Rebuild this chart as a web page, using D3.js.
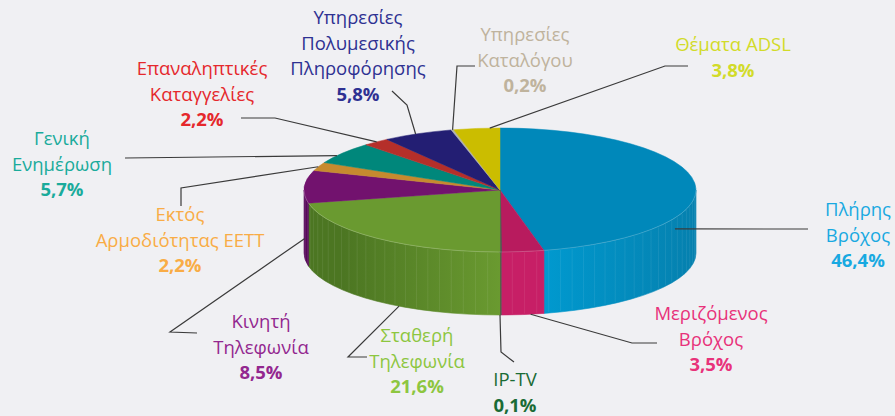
<!DOCTYPE html>
<html><head><meta charset="utf-8">
<script src="https://cdn.jsdelivr.net/npm/d3@7"></script>
<style>
html,body{margin:0;padding:0;background:#F0F0F3;}
svg{display:block;}
text{font-family:"Open Sans",Lato,sans-serif;}
</style></head>
<body>
<svg id="chart" width="895" height="416"></svg>
<script>
// ---- data ----
const categories = [
  ["Πλήρης","Βρόχος"],
  ["Μεριζόμενος","Βρόχος"],
  ["IP-TV"],
  ["Σταθερή","Τηλεφωνία"],
  ["Κινητή","Τηλεφωνία"],
  ["Εκτός","Αρμοδιότητας ΕΕΤΤ"],
  ["Γενική","Ενημέρωση"],
  ["Επαναληπτικές","Καταγγελίες"],
  ["Υπηρεσίες","Πολυμεσικής","Πληροφόρησης"],
  ["Υπηρεσίες","Καταλόγου"],
  ["Θέματα ADSL"]
];
const values = [46.4, 3.5, 0.1, 21.6, 8.5, 2.2, 5.7, 2.2, 5.8, 0.2, 3.8];
const valueLabels = ["46,4%","3,5%","0,1%","21,6%","8,5%","2,2%","5,7%","2,2%","5,8%","0,2%","3,8%"];

// ---- styles ----
const topColors   = ["#0088BA","#B81B5E","#4D4D4D","#6A9A30","#72126E","#C68A2F","#00877B","#B52F2A","#231E73","#B0B0B0","#CBBD00"];
const sideLeft    = ["#009AD0","#C71F66","#4D4D4D","#4C7622","#57095A","#A8721F","#006C62","#952420","#19155C","#909090","#A89C00"];
const sideRight   = ["#0580AE","#C71F66","#4D4D4D","#6A9A30","#57095A","#A8721F","#006C62","#952420","#19155C","#909090","#A89C00"];
const labelColors = ["#18A9E1","#E8327A","#1A6B35","#8DC63F","#93278F","#F9AC45","#1AAB9B","#E5282C","#2E3192","#BFB39D","#D2DB29"];

// ---- layout (label centre x, first baseline y, leader elbows, anchor angle deg + depth px) ----
const labelLayout = [
  {x:858, y:216, elbows:[[808,229]],            anchor:[116.8,11]},
  {x:711, y:320, elbows:[[657,343],[632,343]],  anchor:[171,63]},
  {x:515, y:386, elbows:[[514,362],[501,352]],  anchor:[180,63]},
  {x:417, y:342, elbows:[[367,357],[348,357]],  anchor:[211,63]},
  {x:261, y:328, elbows:[[197,333],[170,332]],  anchor:[265,43]},
  {x:180, y:221, elbows:[[181,206],[181,188]],  anchor:[292,0]},
  {x:62,  y:145, elbows:[[125,158]],            anchor:[303.7,0]},
  {x:202, y:75,  elbows:[[241,118],[275,118]],  anchor:[321,0]},
  {x:358, y:24,  elbows:[[392,91],[407,105]],   anchor:[334.5,0]},
  {x:525, y:41,  elbows:[[475,66],[457,66]],    anchor:[346,0]},
  {x:733, y:51,  elbows:[[688,66],[665,66]],    anchor:[357,0]}
];

const cx = 500, cy = 190, rx = 196, ry = 62, depth = 63;
const lineH = 25.5, fontSize = 18.5;

const svg = d3.select("#chart");
svg.append("rect").attr("width",895).attr("height",416).attr("fill","#F0F0F3");

const pie = d3.pie().sort(null).value(d => d).startAngle(0).endAngle(2*Math.PI);
const arcs = pie(values);

const P = (a, dz=0) => [cx + rx*Math.sin(a), cy - ry*Math.cos(a) + dz];
const f = p => p[0].toFixed(2)+","+p[1].toFixed(2);

const defs = svg.append("defs");
arcs.forEach((d,i) => {
  const g = defs.append("linearGradient").attr("id","side"+i)
    .attr("gradientUnits","userSpaceOnUse")
    .attr("x1",cx-rx).attr("x2",cx+rx).attr("y1",0).attr("y2",0);
  if (i===0) {
    g.append("stop").attr("offset","0.6").attr("stop-color",sideLeft[i]);
    g.append("stop").attr("offset","1").attr("stop-color",sideRight[i]);
  } else if (i===3) {
    g.append("stop").attr("offset","0.1").attr("stop-color",sideLeft[i]);
    g.append("stop").attr("offset","0.5").attr("stop-color",sideRight[i]);
  } else {
    g.append("stop").attr("offset","0").attr("stop-color",sideLeft[i]);
    g.append("stop").attr("offset","1").attr("stop-color",sideRight[i]);
  }
});

// side walls (front half only)
const gSide = svg.append("g");
arcs.forEach((d,i) => {
  const b0 = Math.max(d.startAngle, Math.PI/2), b1 = Math.min(d.endAngle, 3*Math.PI/2);
  if (b1 <= b0) return;
  const path = `M${f(P(b0))} A${rx},${ry} 0 0 1 ${f(P(b1))} L${f(P(b1,depth))} A${rx},${ry} 0 0 0 ${f(P(b0,depth))} Z`;
  gSide.append("path").attr("d",path).attr("fill",`url(#side${i})`)
    .attr("stroke",`url(#side${i})`).attr("stroke-width",0.6);
  // faint vertical stripes
  const step = 3.6*Math.PI/180;
  for (let a = Math.ceil(b0/step)*step; a < b1; a += step) {
    if (Math.abs(a - b0) < 0.01 || Math.abs(a-b1) < 0.01) continue;
    const p0 = P(a), p1 = P(a, depth);
    gSide.append("line").attr("x1",p0[0]).attr("y1",p0[1]+1).attr("x2",p1[0]).attr("y2",p1[1]-1)
      .attr("stroke","#ffffff").attr("stroke-opacity",0.1).attr("stroke-width",0.8);
  }
});

// top faces
const gTop = svg.append("g");
arcs.forEach((d,i) => {
  const large = (d.endAngle - d.startAngle) > Math.PI ? 1 : 0;
  const path = `M${cx},${cy} L${f(P(d.startAngle))} A${rx},${ry} 0 ${large} 1 ${f(P(d.endAngle))} Z`;
  gTop.append("path").attr("d",path).attr("fill",topColors[i])
    .attr("stroke", i===2 ? "#555" : topColors[i]).attr("stroke-width", i===2 ? 1.5 : 0.5)
    .attr("stroke-linejoin","round");
});
// light rim at front edge
svg.append("path")
  .attr("d",`M${f(P(Math.PI/2))} A${rx},${ry} 0 0 1 ${f(P(3*Math.PI/2))}`)
  .attr("fill","none").attr("stroke","#ffffff").attr("stroke-opacity",0.25).attr("stroke-width",0.8);

// leader lines
const gLead = svg.append("g");
labelLayout.forEach((L,i) => {
  const a = L.anchor[0]*Math.PI/180;
  const pts = L.elbows.concat([P(a, L.anchor[1])]);
  gLead.append("path").attr("d", d3.line()(pts))
    .attr("fill","none").attr("stroke","#3a3a3a").attr("stroke-width",1.2);
});

// labels
const gLab = svg.append("g");
categories.forEach((lines,i) => {
  const L = labelLayout[i];
  const t = gLab.append("text").attr("text-anchor","middle").attr("fill",labelColors[i])
    .style("font-size",fontSize+"px");
  lines.forEach((s,k) => {
    t.append("tspan").attr("x",L.x).attr("y",L.y + k*lineH).text(s);
  });
  t.append("tspan").attr("x",L.x).attr("y",L.y + lines.length*lineH)
    .style("font-weight","bold").text(valueLabels[i]);
});
</script>
</body></html>
